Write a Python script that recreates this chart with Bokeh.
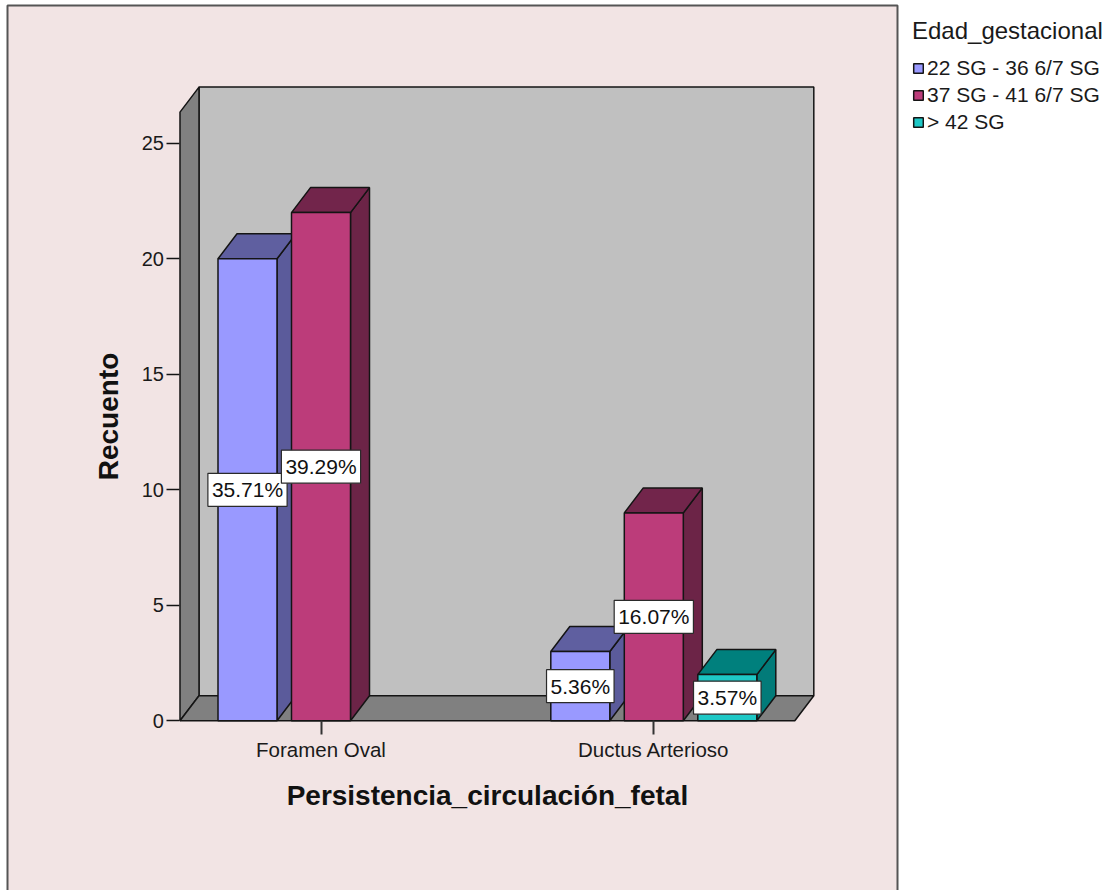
import math

from bokeh.core.properties import value
from bokeh.embed import file_html
from bokeh.models import (ColumnDataSource, FixedTicker, Label, Legend,
                          LegendItem, LinearAxis, Range1d)
from bokeh.plotting import figure
from bokeh.resources import INLINE

# ---- data -----------------------------------------------------------------
categories = ["Foramen Oval", "Ductus Arterioso"]
series_names = ["22 SG - 36 6/7 SG", "37 SG - 41 6/7 SG", "> 42 SG"]
counts_22_36 = [20, 3]
counts_37_41 = [22, 9]
counts_42 = [0, 2]
total_cases = 56
y_ticks = [0, 5, 10, 15, 20, 25]

x_title = "Persistencia_circulación_fetal"
y_title = "Recuento"
legend_title = "Edad_gestacional"

# ---- styles ---------------------------------------------------------------
FONT = "Liberation Sans"
PINK = "#f2e4e4"
EDGE = "#141414"
front_colors = ["#9999ff", "#bc3c7a", "#1ec8c6"]
top_colors = ["#5f5fa0", "#72254b", "#00807d"]
side_colors = ["#5b5b9b", "#6c2447", "#027b79"]

# ---- geometry -------------------------------------------------------------
W, H = 1111, 890
PX_X, PX_Y = 332.8, 23.1          # pixels per category step / per count
X0_PX, Y0_PX = 320.5, 720.3       # pixel position of (first category, 0)


def xd(px):
    """horizontal pixel -> data x"""
    return (px - X0_PX) / PX_X


def yd(py):
    """vertical pixel (from top) -> data y"""
    return (Y0_PX - py) / PX_Y


DX = 19 / PX_X                    # 3D depth offset
DY = 25 / PX_Y
PITCH = 73.5 / PX_X               # distance between bars of one category
BAR_W = 59 / PX_X
WALL_MARGIN = 0.4237
WALL_TOP = 26.35

x_range = Range1d(xd(0), xd(W))
y_range = Range1d(yd(H), yd(0))

p = figure(width=W, height=H, x_range=x_range, y_range=y_range,
           x_axis_type=None, y_axis_type=None,
           toolbar_location=None, output_backend="svg",
           min_border=0, background_fill_color="white",
           border_fill_color="white", outline_line_color=None)

# pink chart area with its frame (bottom edge runs off the page)
p.quad(left=xd(7), right=xd(897), top=yd(5), bottom=yd(H + 20),
       fill_color=PINK, line_color="#555555", line_width=2)

# ---- chart walls ---------------------------------------------------------
wl = 0 - WALL_MARGIN
wr = (len(categories) - 1) + WALL_MARGIN

p.quad(left=wl + DX, right=wr + DX, bottom=DY, top=WALL_TOP + DY,
       fill_color="#c0c0c0", line_color=EDGE, line_width=1.5)
p.patch([wl, wl, wl + DX, wl + DX], [0, WALL_TOP, WALL_TOP + DY, DY],
        fill_color="#808080", line_color=EDGE, line_width=1.5)
p.patch([wl, wr, wr + DX, wl + DX], [0, 0, DY, DY],
        fill_color="#808080", line_color=EDGE, line_width=1.5)

# ---- bars: side and top faces, ordered left to right -----------------------
series = [counts_22_36, counts_37_41, counts_42]
xs, ys, cols = [], [], []
for g in range(len(categories)):
    for k, vals in enumerate(series):
        v = vals[g]
        if v <= 0:
            continue
        xc = g + (k - 1) * PITCH
        x0, x1 = xc - BAR_W / 2, xc + BAR_W / 2
        xs.append([x1, x1 + DX, x1 + DX, x1])
        ys.append([0, DY, v + DY, v])
        cols.append(side_colors[k])
        xs.append([x0, x1, x1 + DX, x0 + DX])
        ys.append([v, v, v + DY, v + DY])
        cols.append(top_colors[k])
p.patches(xs, ys, fill_color=cols, line_color=EDGE, line_width=1.5)

# front faces, one renderer per series (also used by the legend)
front_renderers = []
lab_x, lab_y, lab_t = [], [], []
for k, vals in enumerate(series):
    data = dict(left=[], right=[], top=[], bottom=[])
    for g, v in enumerate(vals):
        if v <= 0:
            continue
        xc = g + (k - 1) * PITCH
        data["left"].append(xc - BAR_W / 2)
        data["right"].append(xc + BAR_W / 2)
        data["bottom"].append(0)
        data["top"].append(v)
        lab_x.append(xc)
        lab_y.append(v / 2)
        lab_t.append(f"{v / total_cases * 100:.2f}%")
    r = p.quad(left="left", right="right", top="top", bottom="bottom",
               source=ColumnDataSource(data), fill_color=front_colors[k],
               line_color=EDGE, line_width=1.5)
    front_renderers.append(r)

# percentage labels in white boxes
p.text(x=lab_x, y=lab_y, text=lab_t, text_align="center", text_baseline="middle",
       text_font=value(FONT), text_font_size="21px", text_color="#111111",
       background_fill_color="white", border_line_color="#2a2a2a",
       border_line_width=1.2, padding=dict(left=4, right=4, top=5, bottom=5))

# ---- axes ---------------------------------------------------------------
yaxis = LinearAxis(ticker=FixedTicker(ticks=y_ticks), fixed_location=wl,
                   axis_line_color=None, major_tick_out=13, major_tick_in=0,
                   major_tick_line_color=EDGE, major_tick_line_width=1.5,
                   minor_tick_line_color=None, major_label_standoff=3,
                   major_label_text_font=FONT, major_label_text_font_size="20px",
                   major_label_text_color="#1a1a1a")
p.add_layout(yaxis, "left")

xaxis = LinearAxis(ticker=FixedTicker(ticks=list(range(len(categories)))),
                   major_label_overrides={i: c for i, c in enumerate(categories)},
                   fixed_location=0, axis_line_color=None,
                   major_tick_out=14, major_tick_in=0,
                   major_tick_line_color="#333333", major_tick_line_width=2,
                   minor_tick_line_color=None, major_label_standoff=3,
                   major_label_text_font=FONT, major_label_text_font_size="20.5px",
                   major_label_text_color="#1a1a1a")
p.add_layout(xaxis, "below")

# axis titles
p.add_layout(Label(x=xd(108), y=WALL_TOP / 2, text=y_title,
                   angle=math.pi / 2, text_align="center", text_baseline="middle",
                   text_font=FONT, text_font_style="bold", text_font_size="28px",
                   text_color="#111111"))
p.add_layout(Label(x=(len(categories) - 1) / 2, y=yd(795), text=x_title,
                   text_align="center", text_baseline="middle",
                   text_font=FONT, text_font_style="bold", text_font_size="28px",
                   text_color="#111111"))

# ---- legend ---------------------------------------------------------------
legend = Legend(items=[LegendItem(label=n, renderers=[r])
                       for n, r in zip(series_names, front_renderers)],
                location=(912, H - 134), title=legend_title,
                title_text_font=FONT, title_text_font_size="24px",
                title_text_font_style="normal", title_text_color="#1a1a1a",
                title_standoff=11,
                label_text_font=FONT, label_text_font_size="21px",
                label_text_color="#1a1a1a",
                glyph_width=12, glyph_height=12, label_standoff=3,
                label_height=23, spacing=3, padding=0, margin=0,
                border_line_color=None, background_fill_alpha=0)
p.add_layout(legend)

open("out.html", "w").write(file_html(p, INLINE))
